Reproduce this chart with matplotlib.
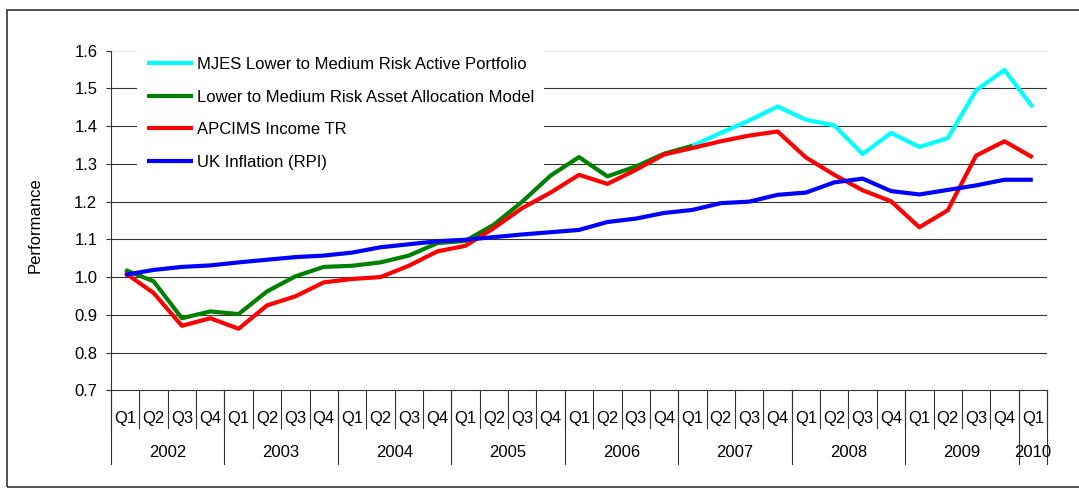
"""Performance chart: MJES portfolio vs asset allocation model, APCIMS Income TR and UK RPI.

Quarterly values 2002 Q1 - 2010 Q1, two-level category axis (quarter / year).
Output: out.png
"""

import matplotlib

matplotlib.use("Agg")
import matplotlib.pyplot as plt
import numpy as np
from matplotlib.patches import Rectangle
from matplotlib.transforms import blended_transform_factory

plt.rcParams["font.family"] = ["Liberation Sans", "DejaVu Sans"]

QUARTERS = ["Q1", "Q2", "Q3", "Q4"] * 8 + ["Q1"]
YEARS = ["2002", "2003", "2004", "2005", "2006", "2007", "2008", "2009", "2010"]
YEAR_SIZES = [4, 4, 4, 4, 4, 4, 4, 4, 1]

nan = np.nan

# MJES portfolio only diverges from the model from 2007 Q1 onward
MJES = [nan] * 20 + [1.348, 1.382, 1.415, 1.452,
                     1.417, 1.402, 1.326, 1.382,
                     1.345, 1.368, 1.495, 1.549,
                     1.450]

MODEL = [1.019, 0.989, 0.891, 0.909,
         0.902, 0.962, 1.002, 1.027,
         1.030, 1.039, 1.057, 1.090,
         1.096, 1.139, 1.200, 1.269,
         1.318, 1.267, 1.293, 1.327,
         1.348] + [nan] * 12

APCIMS = [1.011, 0.958, 0.871, 0.891,
          0.863, 0.925, 0.949, 0.986,
          0.995, 1.000, 1.030, 1.068,
          1.083, 1.130, 1.183, 1.224,
          1.271, 1.247, 1.284, 1.325,
          1.342, 1.360, 1.375, 1.386,
          1.317, 1.271, 1.230, 1.201,
          1.132, 1.177, 1.322, 1.360,
          1.317]

RPI = [1.006, 1.019, 1.027, 1.031,
       1.039, 1.046, 1.053, 1.057,
       1.065, 1.079, 1.087, 1.095,
       1.099, 1.106, 1.113, 1.119,
       1.125, 1.146, 1.155, 1.170,
       1.178, 1.196, 1.200, 1.218,
       1.224, 1.251, 1.261, 1.228,
       1.219, 1.231, 1.243, 1.258,
       1.258]

SERIES = [
    (MJES, "MJES Lower to Medium Risk Active Portfolio", "#00FFFF"),
    (MODEL, "Lower to Medium Risk Asset Allocation Model", "#008000"),
    (APCIMS, "APCIMS Income TR", "#FF0000"),
    (RPI, "UK Inflation (RPI)", "#0000FF"),
]

W, H, DPI = 1079, 490, 100

fig = plt.figure(figsize=(W / DPI, H / DPI), dpi=DPI)
ax = fig.add_axes([111 / W, 1 - 390.3 / H, 936 / W, 339.6 / H])

x = np.arange(len(QUARTERS))
for i, (vals, label, color) in enumerate(SERIES):
    ax.plot(x, vals, color=color, lw=3.0, label=label, zorder=3 + i,
            solid_joinstyle="round", solid_capstyle="butt")

# axes / grid
ax.set_xlim(-0.5, len(QUARTERS) - 0.5)
ax.set_ylim(0.7, 1.6)
yt = np.round(np.arange(0.7, 1.61, 0.1), 1)
ax.set_yticks(yt)
ax.set_yticklabels([f"{v:.1f}" for v in yt], fontsize=12)
ax.tick_params(axis="y", direction="out", length=3.6, width=0.8,
               color="#333333", pad=6.3)
ax.set_xticks([])
for v in yt[1:-1]:
    ax.axhline(v, color="#333333", lw=0.8, zorder=1)
ax.axhline(1.6, color="#e6e6e6", lw=0.8, zorder=1)
for side in ["top", "right"]:
    ax.spines[side].set_visible(False)
ax.spines["left"].set_color("#333333")
ax.spines["bottom"].set_color("#333333")
ax.spines["left"].set_linewidth(0.8)
ax.spines["bottom"].set_linewidth(0.8)

ax.set_ylabel("Performance", fontsize=12)
ax.yaxis.set_label_coords(-0.0727, 0.485)

# two-level category axis
ah = 339.6  # axes height in px
tr = blended_transform_factory(ax.transData, ax.transAxes)
for b in np.arange(len(QUARTERS) + 1) - 0.5:
    ax.plot([b, b], [0, -38 / ah], transform=tr, color="#333333", lw=0.8,
            clip_on=False)
for q, xi in zip(QUARTERS, x):
    ax.text(xi, -28 / ah, q, transform=tr, ha="center", va="center",
            fontsize=12)
start = 0
for yr, n in zip(YEARS, YEAR_SIZES):
    ax.plot([start - 0.5, start - 0.5], [0, -74 / ah], transform=tr,
            color="#333333", lw=0.8, clip_on=False)
    ax.text(start + (n - 1) / 2, -62 / ah, yr, transform=tr, ha="center",
            va="center", fontsize=12)
    start += n
ax.plot([start - 0.5, start - 0.5], [0, -74 / ah], transform=tr,
        color="#333333", lw=0.8, clip_on=False, zorder=0)

# white legend box hides the gridlines behind it, lines stay on top
leg = ax.legend(loc="upper left", bbox_to_anchor=(137 / W, 1 - 47 / H),
                bbox_transform=fig.transFigure, borderaxespad=0,
                fontsize=12, frameon=True, facecolor="white",
                edgecolor="none", framealpha=1, fancybox=False,
                handlelength=2.75, handletextpad=0.25, labelspacing=1.05,
                borderpad=0.6)
leg.set_zorder(2)

# outer chart border
fig.patches.append(Rectangle((7 / W, 1 - 487 / H), 1.2, (487 - 10) / H,
                             transform=fig.transFigure, fill=False,
                             edgecolor="#333333", lw=1.2))

fig.savefig("out.png", dpi=DPI)
